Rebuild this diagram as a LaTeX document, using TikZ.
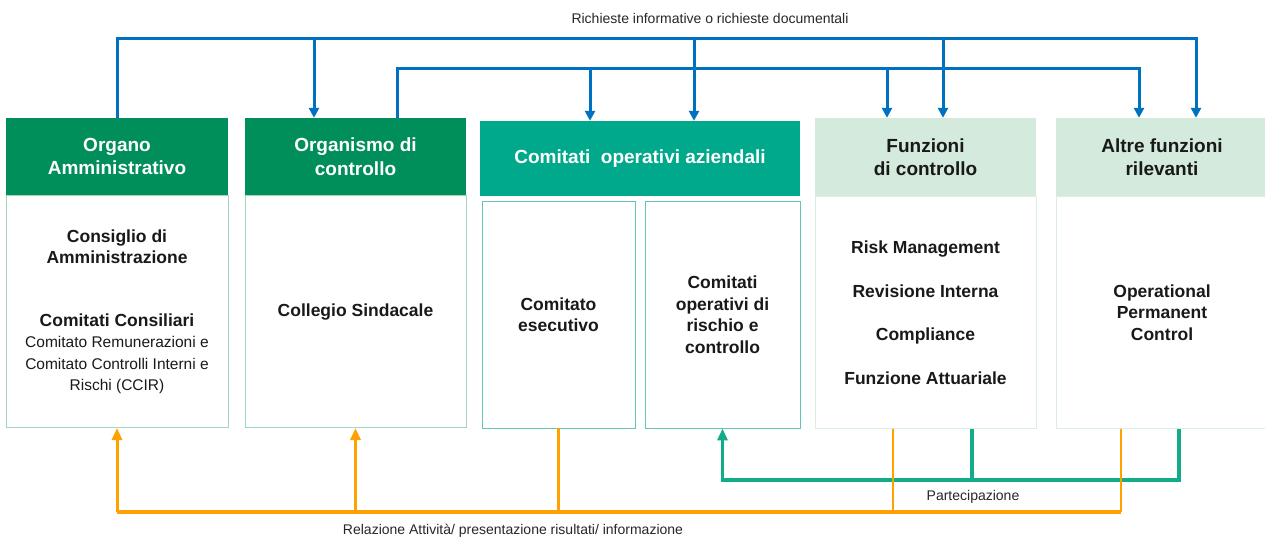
\documentclass[tikz,border=0pt]{standalone}
\usepackage{fontspec}
\setmainfont{Liberation Sans}
\usetikzlibrary{arrows.meta,positioning}

\definecolor{verdescuro}{RGB}{0,142,90}
\definecolor{verdeacqua}{RGB}{0,169,139}
\definecolor{verdechiaro}{RGB}{211,234,220}
\definecolor{bordochiaro}{RGB}{160,214,186}
\definecolor{bordoacqua}{RGB}{100,198,178}
\definecolor{bordotenue}{RGB}{220,238,227}
\definecolor{blurich}{RGB}{0,112,192}
\definecolor{arancio}{RGB}{255,161,0}
\definecolor{verdepart}{RGB}{18,172,138}

\newcommand\testopiccolo{\fontsize{15.5}{20.5}\selectfont\mdseries}

\tikzset{
  testa/.style={minimum height=77pt, align=center, inner sep=0pt,
    font=\fontsize{19}{23.5}\selectfont\bfseries},
  testascura/.style={testa, fill=verdescuro, text=white},
  testaacqua/.style={testa, fill=verdeacqua, text=white},
  testachiara/.style={testa, fill=verdechiaro, text=black!90},
  corpo/.style={draw=bordochiaro, line width=0.8pt, align=center, inner sep=0pt,
    minimum height=232pt, font=\fontsize{17.5}{21.5}\selectfont\bfseries, text=black!90},
  sottocorpo/.style={corpo, draw=bordoacqua, minimum height=227pt},
  corpotenue/.style={corpo, draw=bordotenue},
  etichetta/.style={font=\fontsize{14}{16}\selectfont, text=black!85, inner sep=0pt},
  richiesta/.style={draw=blurich, line width=3pt, -{Triangle[length=10pt,width=10pt]}},
  relazione/.style={draw=arancio, line width=3pt, -{Triangle[length=12pt,width=10pt]}},
  partecipa/.style={draw=verdepart, line width=3.5pt, -{Triangle[length=12pt,width=10pt]}}
}

\begin{document}
\begin{tikzpicture}[x=1pt,y=-1pt]
		\useasboundingbox (0,0) rectangle (1265,539);
		% intestazioni
		\node[testascura, minimum width=222pt] (orgH) at (117,156.5) {Organo\\Amministrativo};
		\node[testascura, minimum width=221pt] (odcH) at (355.5,156.5) {Organismo di\\controllo};
		\node[testaacqua, minimum width=320pt, minimum height=75pt] (comH) at (640,158.5) {Comitati\ \ operativi aziendali};
		\node[testachiara, minimum width=221pt, minimum height=78pt] (ctrlH) at (925.5,157) {Funzioni\\di controllo};
		\node[testachiara, minimum width=212pt, minimum height=78pt] (altH) at (1162,157) {Altre funzioni\\rilevanti};
		% corpi
		\node[corpo, minimum width=222pt, below=0pt of orgH] (orgB) {Consiglio di\\Amministrazione\\[41pt]Comitati Consiliari\\
			\testopiccolo Comitato Remunerazioni e\\\testopiccolo Comitato Controlli Interni e\\\testopiccolo Rischi (CCIR)};
		\node[corpo, minimum width=221pt, below=0pt of odcH] (odcB) {Collegio Sindacale};
		\node[sottocorpo, minimum width=153pt] (esecB) at (558.5,314.5) {Comitato\\esecutivo};
		\node[sottocorpo, minimum width=155pt] (rcB) at (722.5,314.5) {Comitati\\operativi di\\rischio e\\controllo};
		\node[corpotenue, minimum width=221pt, below=0pt of ctrlH] (ctrlB) {Risk Management\\[22pt]Revisione Interna\\[22pt]Compliance\\[22pt]Funzione Attuariale};
		\node[corpotenue, minimum width=212pt, below=0pt of altH] (altB) {Operational\\Permanent\\Control};
		% linee di collegamento
		\coordinate (busalto) at (0,38);
		\coordinate (busmedio) at (0,68);
		\coordinate (buspart) at (0,480);
		\coordinate (busrel) at (0,512);
		\node[etichetta] (reqL) at (710,18) {Richieste informative o richieste documentali};
		\node[etichetta] (partL) at (973,497) {Partecipazione};
		\node[etichetta] (relL) at (513,531) {Relazione Attività/ presentazione risultati/ informazione};
		% richieste (blu)
		\draw[richiesta] (orgH.north) |- ([xshift=34pt]altH.north |- busalto) -- ([xshift=34pt]altH.north);
		\draw[richiesta] ([xshift=41.5pt]odcH.north) |- ([xshift=-23pt]altH.north |- busmedio) -- ([xshift=-23pt]altH.north);
		\foreach \n/\dx/\bus in {odcH/-41.5/busalto, comH/54/busalto, ctrlH/17.5/busalto, comH/-50/busmedio, ctrlH/-38.5/busmedio}
			\draw[richiesta] ([xshift=\dx pt]\n.north |- \bus) -- ([xshift=\dx pt]\n.north);
		% partecipazione (verde)
		\draw[partecipa] ([xshift=17pt]altB.south) |- (rcB.south |- buspart) -- (rcB.south);
		\draw[partecipa, -] ([xshift=46.5pt]ctrlB.south) -- ([xshift=46.5pt]ctrlB.south |- buspart);
		% relazioni (arancio)
		\draw[relazione, line width=4pt, -] ([xshift=-41pt]altB.south |- busrel) -- (orgB.south |- busrel);
		\draw[relazione] (orgB.south |- busrel) -- (orgB.south);
		\draw[relazione] (odcB.south |- busrel) -- (odcB.south);
		\foreach \n/\dx in {esecB/0, ctrlB/-32.5, altB/-41}
			\draw[relazione, line width=2.5pt, -] ([xshift=\dx pt]\n.south) -- ([xshift=\dx pt]\n.south |- busrel);
\end{tikzpicture}
\end{document}
